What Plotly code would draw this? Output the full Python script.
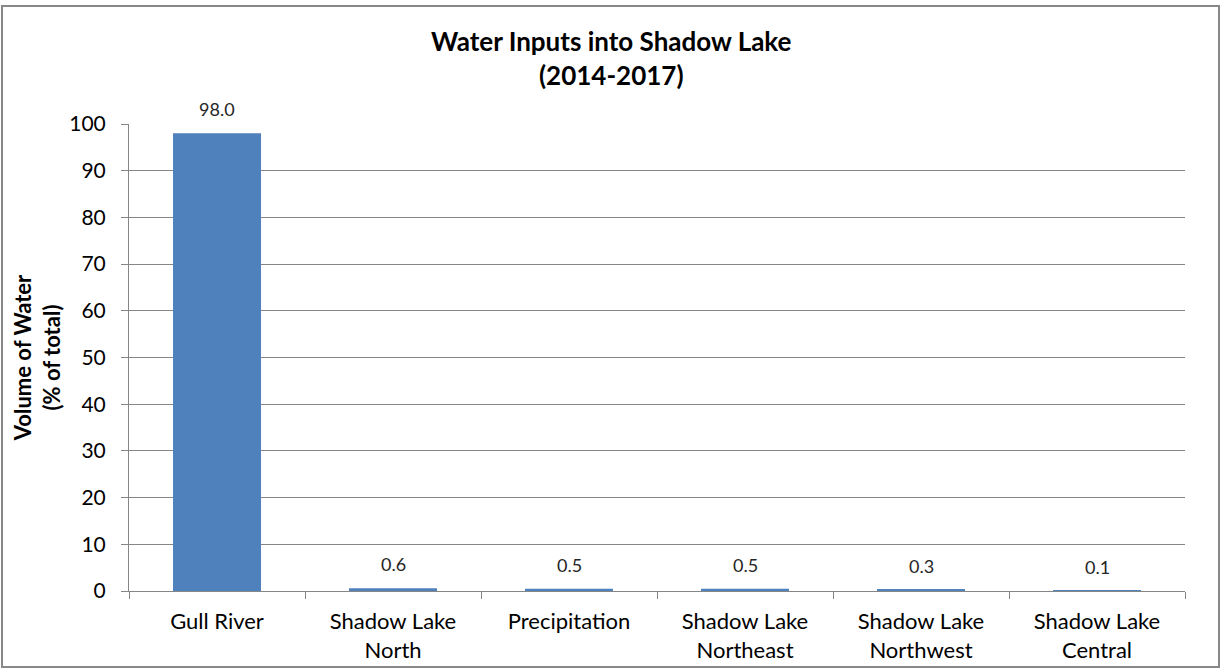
import plotly.graph_objects as go

categories = ["Gull River", "Shadow Lake<br>North", "Precipitation",
              "Shadow Lake<br>Northeast", "Shadow Lake<br>Northwest", "Shadow Lake<br>Central"]
values = [98.0, 0.6, 0.5, 0.5, 0.3, 0.1]
value_labels = ["98.0", "0.6", "0.5", "0.5", "0.3", "0.1"]
y_ticks = [0, 10, 20, 30, 40, 50, 60, 70, 80, 90, 100]
title_text = "<b>Water Inputs into Shadow Lake<br>(2014-2017)</b>"

W, H = 1225, 669
L, R, T, B = 129, 40, 124, 78
pw, ph = W - L - R, H - T - B

def px_x(p):
    return (p - L) / pw

def px_y(p):
    return (H - B - p) / ph

font_fam = "Lato, 'Open Sans', sans-serif"

fig = go.Figure(go.Bar(
    x=categories, y=values,
    marker=dict(color="#4F81BD", line=dict(width=0)),
    hoverinfo="x+y",
))

for c, v, t in zip(categories, values, value_labels):
    fig.add_annotation(x=c, y=v, text=t, showarrow=False, yanchor="bottom",
                       yshift=11, font=dict(size=18, color="#262626", family=font_fam))

fig.add_annotation(xref="paper", yref="paper", x=px_x(611), y=px_y(58),
                   xanchor="center", yanchor="middle", showarrow=False,
                   text=title_text, font=dict(size=26, color="#000000", family=font_fam))

fig.update_layout(
    width=W, height=H,
    margin=dict(l=L, r=R, t=T, b=B, autoexpand=False),
    paper_bgcolor="white", plot_bgcolor="white",
    bargap=0.5, showlegend=False,
    font=dict(family=font_fam, color="#000000"),
    xaxis=dict(showgrid=False, showline=True, linecolor="#868686", linewidth=1,
               ticks="outside", tickson="boundaries", ticklen=7, tickcolor="#868686",
               ticklabelstandoff=11, automargin=False,
               tickfont=dict(size=22, color="#000000", family=font_fam)),
    yaxis=dict(range=[0, 100], tickvals=y_ticks, showgrid=True, gridcolor="#868686", gridwidth=1,
               showline=True, linecolor="#868686", linewidth=1,
               ticks="outside", ticklen=7, tickcolor="#868686",
               ticklabelstandoff=11, automargin=False,
               tickfont=dict(size=21, color="#000000", family=font_fam),
               zeroline=False,
               title=dict(text="<b>Volume of Water<br>(% of total)</b>", standoff=2,
                          font=dict(size=22, color="#000000", family=font_fam))),
)

fig.add_shape(type="rect", xref="paper", yref="paper",
              x0=px_x(2), x1=px_x(1219), y0=px_y(667), y1=px_y(6),
              line=dict(color="#888888", width=2), fillcolor="rgba(0,0,0,0)", layer="below")

fig.write_html("out.html", config={"displayModeBar": False},
               post_script="document.body.style.margin='0px';document.body.style.overflow='hidden';")
